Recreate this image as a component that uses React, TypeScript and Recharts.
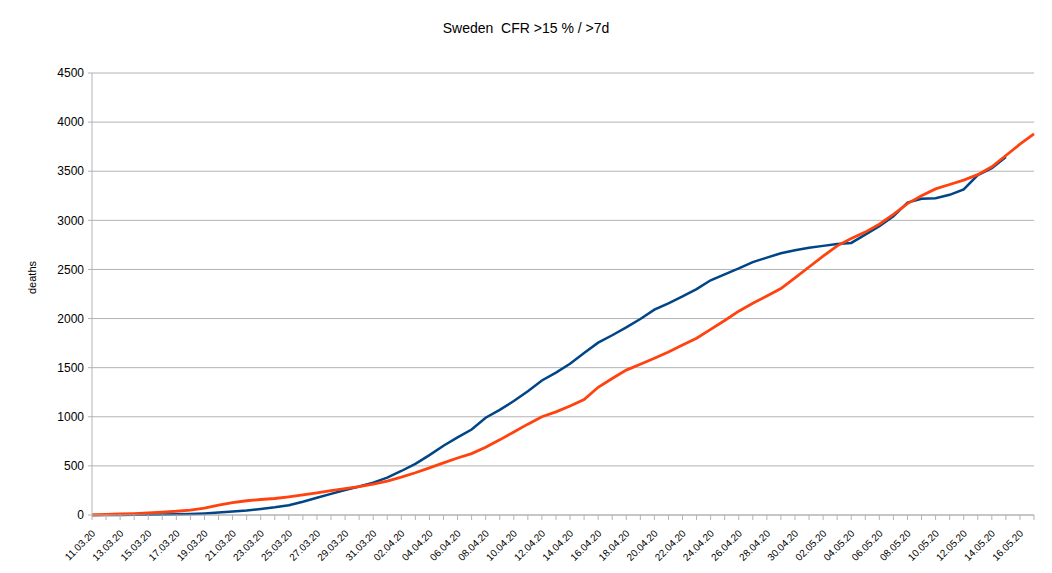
import { LineChart, Line, XAxis, YAxis, CartesianGrid } from "recharts";

const dates = [
  "11.03.20", "12.03.20", "13.03.20", "14.03.20", "15.03.20", "16.03.20", "17.03.20",
  "18.03.20", "19.03.20", "20.03.20", "21.03.20", "22.03.20", "23.03.20", "24.03.20",
  "25.03.20", "26.03.20", "27.03.20", "28.03.20", "29.03.20", "30.03.20", "31.03.20",
  "01.04.20", "02.04.20", "03.04.20", "04.04.20", "05.04.20", "06.04.20", "07.04.20",
  "08.04.20", "09.04.20", "10.04.20", "11.04.20", "12.04.20", "13.04.20", "14.04.20",
  "15.04.20", "16.04.20", "17.04.20", "18.04.20", "19.04.20", "20.04.20", "21.04.20",
  "22.04.20", "23.04.20", "24.04.20", "25.04.20", "26.04.20", "27.04.20", "28.04.20",
  "29.04.20", "30.04.20", "01.05.20", "02.05.20", "03.05.20", "04.05.20", "05.05.20",
  "06.05.20", "07.05.20", "08.05.20", "09.05.20", "10.05.20", "11.05.20", "12.05.20",
  "13.05.20", "14.05.20", "15.05.20", "16.05.20", "17.05.20",
];

// reported deaths
const reported = [
  1, 1, 1, 2, 3, 6, 7, 10, 16, 25, 35, 45, 60, 78, 100, 135, 175, 215, 255, 290,
  330, 380, 448, 520, 610, 705, 790, 870, 990, 1070, 1160, 1260, 1370, 1450, 1540,
  1650, 1755, 1830, 1910, 1995, 2090, 2155, 2225, 2300, 2390, 2450, 2510, 2575,
  2620, 2665, 2695, 2720, 2740, 2760, 2770, 2855, 2940, 3040, 3180, 3220, 3225,
  3260, 3315, 3460, 3530, 3645,
];

// estimate from cases, CFR >15 %, lag >7 days
const estimate = [
  0, 5, 10, 15, 22, 30, 38, 50, 70, 100, 125, 145, 158, 168, 185, 205, 225, 248,
  268, 290, 315, 345, 385, 430, 480, 530, 580, 625, 690, 765, 845, 925, 1000, 1050,
  1110, 1175, 1300, 1390, 1475, 1535, 1595, 1660, 1730, 1800, 1890, 1980, 2075,
  2155, 2230, 2305, 2415, 2525, 2635, 2740, 2815, 2880, 2960, 3060, 3170, 3250,
  3320, 3365, 3410, 3465, 3545, 3660, 3775, 3880,
];

const yTicks = [0, 500, 1000, 1500, 2000, 2500, 3000, 3500, 4000, 4500];

const data = dates.map((d, i) => ({
  date: d,
  reported: reported[i],
  estimate: estimate[i],
}));

const font = "'Liberation Sans', Arial, sans-serif";

function DateTick(props: any) {
  const { x, y, index, payload } = props;
  const ax = x + 4;
  const ay = y + 19;
  return (
    <g>
      <line x1={x} y1={y} x2={x} y2={y + 5} stroke="#b3b3b3" />
      {index % 2 === 0 && (
        <text
          x={ax}
          y={ay}
          textAnchor="end"
          fontSize={10}
          fill="#000"
          fontFamily={font}
          transform={`rotate(-45 ${ax} ${ay})`}
        >
          {payload.value}
        </text>
      )}
    </g>
  );
}

export default function App() {
  return (
    <div style={{ position: "relative", width: 1052, height: 573, fontFamily: font }}>
      <style>{"body{margin:0}"}</style>
      <div
        style={{
          position: "absolute",
          top: 20,
          left: 0,
          width: 1052,
          textAlign: "center",
          fontSize: 14,
          color: "#000",
          whiteSpace: "pre",
        }}
      >
        {"Sweden  CFR >15 % / >7d"}
      </div>
      <LineChart
        width={1052}
        height={573}
        data={data}
        margin={{ top: 73, right: 18, bottom: 0, left: 20 }}
      >
        <CartesianGrid vertical={false} stroke="#b3b3b3" />
        <XAxis
          dataKey="date"
          interval={0}
          height={58}
          tickSize={0}
          tickMargin={0}
          tickLine={false}
          tick={<DateTick />}
          stroke="#b3b3b3"
        />
        <YAxis
          domain={[0, 4500]}
          ticks={yTicks}
          width={72}
          tickSize={4}
          tickMargin={4}
          stroke="#b3b3b3"
          tick={{ fill: "#000", fontSize: 12, fontFamily: font }}
          label={{
            value: "deaths",
            angle: -90,
            position: "insideLeft",
            offset: 12,
            style: { fill: "#000", fontSize: 11, fontFamily: font },
          }}
        />
        <YAxis yAxisId="right" orientation="right" width={0} tick={false} stroke="#b3b3b3" />
        <Line
          dataKey="reported"
          stroke="#004586"
          strokeWidth={2.5}
          dot={false}
          type="linear"
          isAnimationActive={false}
        />
        <Line
          dataKey="estimate"
          stroke="#ff420e"
          strokeWidth={2.8}
          dot={false}
          type="linear"
          isAnimationActive={false}
        />
      </LineChart>
    </div>
  );
}
